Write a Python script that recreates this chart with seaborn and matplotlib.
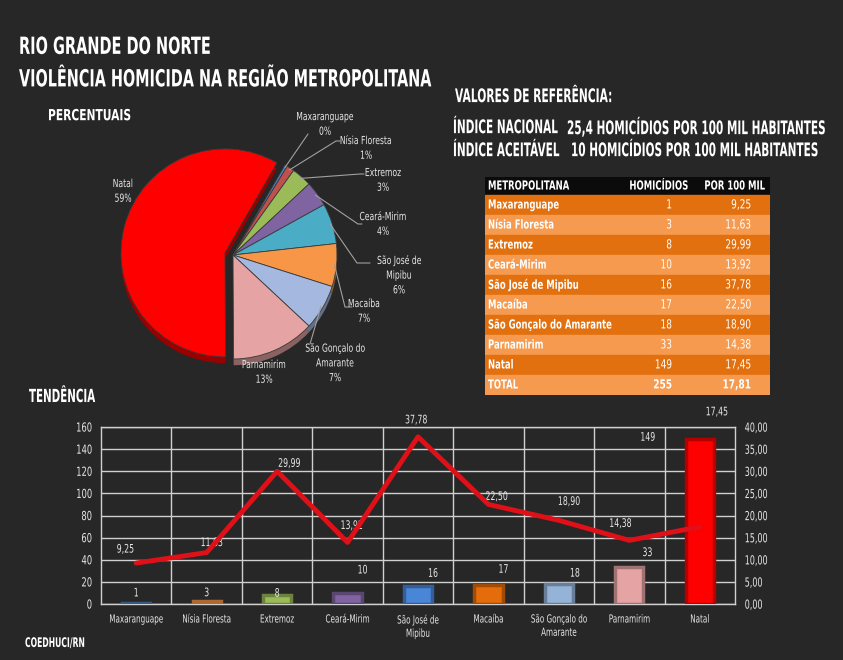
import numpy as np
import pandas as pd
import matplotlib
matplotlib.use("Agg")
import matplotlib.pyplot as plt
import matplotlib.colors as mcolors
from matplotlib.patches import Rectangle
from matplotlib.patheffects import AbstractPathEffect
from matplotlib.transforms import Affine2D
import seaborn as sns

# ---------------- data ----------------
cities = ["Maxaranguape", "Nísia Floresta", "Extremoz", "Ceará-Mirim", "São José de Mipibu",
          "Macaíba", "São Gonçalo do Amarante", "Parnamirim", "Natal"]
xtick_labels = ["Maxaranguape", "Nísia Floresta", "Extremoz", "Ceará-Mirim", "São José de\nMipibu",
                "Macaíba", "São Gonçalo do\nAmarante", "Parnamirim", "Natal"]
pie_names = ["Maxaranguape", "Nísia Floresta", "Extremoz", "Ceará-Mirim", "São José de\nMipibu",
             "Macaíba", "São Gonçalo do\nAmarante", "Parnamirim", "Natal"]
homicides = [1, 3, 8, 10, 16, 17, 18, 33, 149]
rates = [9.25, 11.63, 29.99, 13.92, 37.78, 22.50, 18.90, 14.38, 17.45]
pct_labels = ["0%", "1%", "3%", "4%", "6%", "7%", "7%", "13%", "59%"]
total_homicides = 255
total_rate = 17.81
left_ticks = [0, 20, 40, 60, 80, 100, 120, 140, 160]
right_ticks = [0, 5, 10, 15, 20, 25, 30, 35, 40]

# ---------------- styles ----------------
BG = "#272727"
TXT = "#e6e6e6"
GRID = "#d0d0d0"
pie_colors = ["#4f81bd", "#c0504d", "#9bbb59", "#8064a2", "#4bacc6",
              "#f79646", "#a5b9e0", "#e6a3a3", "#ff0000"]
bar_colors = ["#4f81bd", "#f79646", "#9bbb59", "#8064a2", "#4a86d8",
              "#e46c0a", "#95b3d7", "#e6a3a3", "#ff0000"]
LINE_RED = "#e01018"

sns.set_style("dark", {"axes.facecolor": BG, "figure.facecolor": BG})
plt.rcParams["font.family"] = ["DejaVu Sans"]


class Tall(AbstractPathEffect):
    """Stretch glyphs vertically around the line's centre: a small font drawn tall
    gives the look of a narrow display face while keeping true text widths."""

    def __init__(self, sy, yc=26.0):
        super().__init__((0, 0))
        self.sy, self.yc = sy, yc

    def draw_path(self, renderer, gc, tpath, affine, rgbFace=None):
        t = Affine2D().translate(0, -self.yc).scale(1, self.sy).translate(0, self.yc)
        renderer.draw_path(gc, tpath, t + affine, rgbFace)


def narrow(t, sx, linespacing=None):
    t.set_fontsize(t.get_fontsize() * sx)
    if linespacing is not None:
        t.set_linespacing(linespacing / sx)
    t.set_path_effects([Tall(1.0 / sx)])
    return t


def darker(c, f=0.7):
    r, g, b = mcolors.to_rgb(c)
    return (r * f, g * f, b * f)


W, H = 843, 660
fig = plt.figure(figsize=(W / 100, H / 100), dpi=100, facecolor=BG)


def ftext(x, y, s, sx, **kw):
    kw.setdefault("color", "white")
    kw.setdefault("va", "center")
    kw.setdefault("fontweight", "bold")
    return narrow(fig.text(x / W, 1 - y / H, s, **kw), sx)


# ---------------- titles ----------------
ftext(19, 47, "RIO GRANDE DO NORTE", 0.615, fontsize=17)
ftext(19, 80, "VIOLÊNCIA HOMICIDA NA REGIÃO METROPOLITANA", 0.61, fontsize=17)
ftext(48, 116, "PERCENTUAIS", 0.7, fontsize=11)
ftext(29, 397, "TENDÊNCIA", 0.57, fontsize=13)
ftext(25, 643, "COEDHUCI/RN", 0.58, fontsize=9.5)
ftext(455, 97, "VALORES DE REFERÊNCIA:", 0.57, fontsize=13.5)
ftext(453, 128, "ÍNDICE NACIONAL", 0.56, fontsize=13.5)
ftext(567, 128, "25,4 HOMICÍDIOS POR 100 MIL HABITANTES", 0.56, fontsize=13.5)
ftext(453, 151, "ÍNDICE ACEITÁVEL", 0.56, fontsize=13.5)
ftext(571, 151, "10 HOMICÍDIOS POR 100 MIL HABITANTES", 0.56, fontsize=13.5)

# ---------------- pie ----------------
R = 104.0
CX, CY = 233, 255
L = 1.7
pax = fig.add_axes([(CX - L * R) / W, (H - CY - L * R) / H, 2 * L * R / W, 2 * L * R / H])
explode = [0, 0, 0, 0, 0, 0, 0, 0, 0.08]
pax.pie(homicides, colors=[darker(c, 0.6) for c in pie_colors], startangle=60, counterclock=False,
        explode=explode, center=(0, -0.06), wedgeprops=dict(linewidth=0))
wedges, _ = pax.pie(homicides, colors=pie_colors, startangle=60, counterclock=False,
                    explode=explode, wedgeprops=dict(edgecolor="#3a3a3a", linewidth=0.6))
pax.set_xlim(-L, L)
pax.set_ylim(-L, L)
pax.axis("off")


def d(px, py):
    return ((px - CX) / R, (CY - py) / R)


label_pos = [d(325, 124), d(366, 148), d(383, 180), d(383, 224), d(399, 275),
             d(364, 311), d(335, 363), d(264, 372), d(123, 191)]
elbows = [d(308, 134), d(336, 141), d(360, 174), d(358, 224), d(357, 263),
          d(345, 307), d(310, 344), None, None]
ends = [None, d(340, 141), d(364, 174), d(362, 224), d(370, 263), d(352, 307), None, None, None]
for i, w in enumerate(wedges):
    txt = f"{pie_names[i]}\n{pct_labels[i]}"
    narrow(pax.text(*label_pos[i], txt, ha="center", va="center", fontsize=8, color=TXT),
           0.69, linespacing=1.25)
    if elbows[i] is not None:
        mid = np.deg2rad((w.theta1 + w.theta2) / 2)
        sx, sy = np.cos(mid) * 0.98, np.sin(mid) * 0.98
        xs, ys = [sx, elbows[i][0]], [sy, elbows[i][1]]
        if ends[i] is not None:
            xs.append(ends[i][0]); ys.append(ends[i][1])
        pax.plot(xs, ys, color="#a0a0a0", lw=0.8)

# ---------------- table ----------------
tx0, ty0, tw, th = 485, 177, 285, 218
tax = fig.add_axes([tx0 / W, (H - ty0 - th) / H, tw / W, th / H])
tax.set_xlim(0, tw)
tax.set_ylim(th, 0)
tax.axis("off")
DARK_OR = "#e2700f"
LIGHT_OR = "#f59a4f"
TFS = 9
TSX = 0.68
tax.add_patch(Rectangle((0, 0), tw, 18, color="#0b0b0b"))
narrow(tax.text(3, 9, "METROPOLITANA", color="white", fontsize=TFS, fontweight="bold", va="center"), TSX)
narrow(tax.text(203, 9, "HOMICÍDIOS", color="white", fontsize=TFS, fontweight="bold", va="center",
                ha="right"), TSX)
narrow(tax.text(280, 9, "POR 100 MIL", color="white", fontsize=TFS, fontweight="bold", va="center",
                ha="right"), TSX)
rows = list(zip(cities, homicides, rates)) + [("TOTAL", total_homicides, total_rate)]
for i, (name, h, r) in enumerate(rows):
    y = 18 + 20 * i
    col = DARK_OR if i % 2 == 0 else LIGHT_OR
    wt = "bold" if name == "TOTAL" else "normal"
    tax.add_patch(Rectangle((0, y), tw, 20, color=col))
    narrow(tax.text(3, y + 10, name, color="white", fontsize=TFS, fontweight="bold", va="center"), TSX)
    narrow(tax.text(187, y + 10, f"{h}", color="white", fontsize=TFS, fontweight=wt, va="center",
                    ha="right"), 0.72)
    narrow(tax.text(266, y + 10, f"{r:.2f}".replace(".", ","), color="white", fontsize=TFS,
                    fontweight=wt, va="center", ha="right"), 0.72)

# ---------------- bar + line chart ----------------
ax = fig.add_axes([101 / W, 56 / H, 634 / W, 177 / H])
df = pd.DataFrame({"city": cities, "hom": homicides, "rate": rates})
sns.barplot(data=df, x="city", y="hom", hue="city", palette=bar_colors, legend=False,
            width=0.4, saturation=1, ax=ax, zorder=3)
for p, c in zip(ax.patches, bar_colors):
    p.set_edgecolor(darker(c, 0.7))
    p.set_linewidth(2.5)
ax.set_xlim(-0.5, len(cities) - 0.5)
ax.set_ylim(0, 160)
ax.set_yticks(left_ticks)
ax.set_yticklabels([str(t) for t in left_ticks], color=TXT, fontsize=9)
ax.set_xticks(range(len(cities)))
ax.set_xticklabels(xtick_labels, color=TXT, fontsize=8)
ax.tick_params(axis="x", length=0, pad=9)
ax.tick_params(axis="y", length=0, pad=6.5)
ax.set_xticks(np.arange(-0.5, len(cities), 1), minor=True)
ax.tick_params(axis="x", which="minor", length=8, color=GRID, width=1)
ax.set_xlabel("")
ax.set_ylabel("")
ax.grid(False)
for t in left_ticks:
    ax.axhline(t, color=GRID, lw=1, zorder=1)
for k in range(1, len(cities)):
    ax.axvline(k - 0.5, color=GRID, lw=1, zorder=1)
for s in ax.spines.values():
    s.set_color(GRID)
    s.set_linewidth(1)
for t in ax.get_yticklabels():
    narrow(t, 0.67)
for t in ax.get_xticklabels():
    narrow(t, 0.65, linespacing=1.6)

bar_label_offsets = [(0, 10), (0, 8), (0, 2), (15, 23), (15, 13), (15, 16), (16, 11), (18, 15), (-52, 2)]
for i, h in enumerate(homicides):
    narrow(ax.annotate(f"{h}", (i, h), xytext=bar_label_offsets[i], textcoords="offset pixels",
                       ha="center", va="center", color=TXT, fontsize=8.5), 0.66)

ax2 = ax.twinx()
sns.lineplot(data=df, x="city", y="rate", ax=ax2, color=LINE_RED, lw=3.5, sort=False, zorder=5)
ax2.set_ylim(0, 40)
ax2.set_yticks(right_ticks)
ax2.set_yticklabels([f"{t:.2f}".replace(".", ",") for t in right_ticks], color=TXT, fontsize=9)
ax2.tick_params(axis="y", length=0, pad=7)
ax2.set_ylabel("")
ax2.set_xlabel("")
ax2.grid(False)
for s in ax2.spines.values():
    s.set_visible(False)
for t in ax2.get_yticklabels():
    narrow(t, 0.64)
line_label_offsets = [(-11, 14), (5, 10), (12, 8), (4, 17), (-2, 17), (8, 8), (10, 19), (-9, 17), (17, 115)]
for i, r in enumerate(rates):
    narrow(ax2.annotate(f"{r:.2f}".replace(".", ","), (i, r), xytext=line_label_offsets[i],
                        textcoords="offset pixels", ha="center", va="center", color=TXT,
                        fontsize=8.5), 0.66)

fig.savefig("out.png", dpi=100, facecolor=BG)
